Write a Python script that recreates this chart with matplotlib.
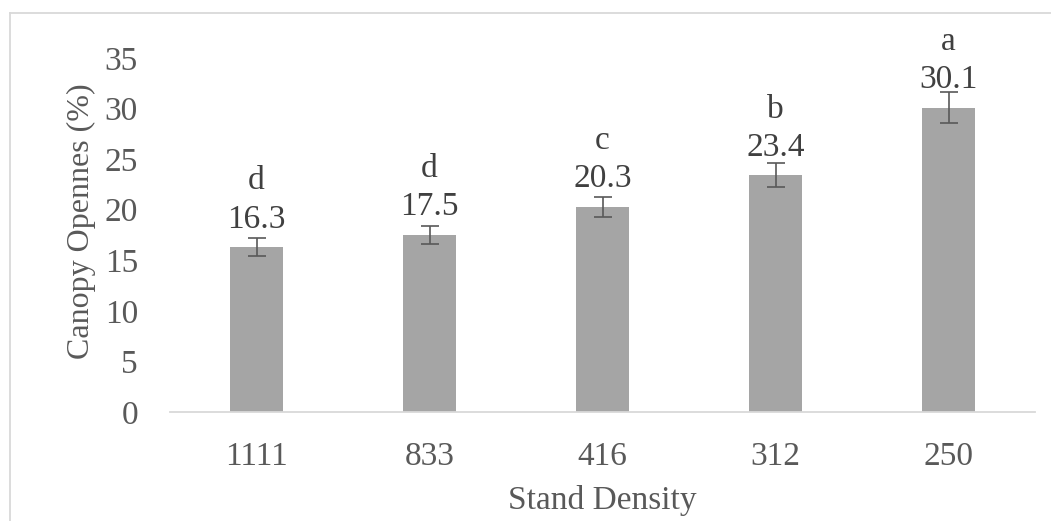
import numpy as np
import matplotlib.pyplot as plt
from matplotlib.lines import Line2D

# stand density classes and measured canopy openness
densities = ["1111", "833", "416", "312", "250"]
openness = [16.3, 17.5, 20.3, 23.4, 30.1]
errors = [0.9, 0.9, 1.0, 1.2, 1.5]
letters = ["d", "d", "c", "b", "a"]

plt.rcParams['font.family'] = ['Liberation Serif', 'DejaVu Serif']
txt = "#595959"
fs = 24

fig = plt.figure(figsize=(10.51, 5.21), dpi=100)
ax = fig.add_axes([170/1051, 1 - 412/521, 865/1051, 354/521])

x = np.arange(len(densities))
ax.bar(x, openness, width=0.31, color="#a5a5a5", zorder=2)
ax.errorbar(x, openness, yerr=errors, fmt="none", ecolor="#595959",
            elinewidth=1.2, capsize=6.5, capthick=1.2, zorder=3)

# value labels and significance letters above each bar
for xi, v, l in zip(x, openness, letters):
    ax.annotate(f"{v:.1f}", (xi, v), xytext=(0, 20), textcoords="offset points",
                ha="center", va="center", fontsize=fs, color="#404040")
    ax.annotate(l, (xi, v), xytext=(0, 47.5), textcoords="offset points",
                ha="center", va="center", fontsize=fs, color="#404040")

ax.set_xlim(-0.5, len(densities) - 0.5)
ax.set_ylim(0, 35)
ax.set_yticks(range(0, 36, 5))
ax.set_xticks(x)
ax.set_xticklabels(densities)
ax.tick_params(axis="both", length=0, labelsize=fs, labelcolor=txt)
ax.tick_params(axis="y", pad=23)
ax.tick_params(axis="x", pad=21)

for s in ["top", "right", "left"]:
    ax.spines[s].set_visible(False)
ax.spines["bottom"].set_color("#d9d9d9")
ax.spines["bottom"].set_linewidth(1.3)

ax.set_ylabel("Canopy Opennes (%)", fontsize=23, color=txt)
ax.yaxis.set_label_coords(-0.085, 0.54)
ax.set_xlabel("Stand Density", fontsize=fs, color=txt)
ax.xaxis.set_label_coords(0.5, -0.205)

# chart area border (top and left visible)
fig.add_artist(Line2D([10/1051, 1], [1 - 13/521, 1 - 13/521],
                      transform=fig.transFigure, color="#d9d9d9", lw=1.3))
fig.add_artist(Line2D([10/1051, 10/1051], [0, 1 - 13/521],
                      transform=fig.transFigure, color="#d9d9d9", lw=1.3))

fig.savefig("out.png", dpi=100)
